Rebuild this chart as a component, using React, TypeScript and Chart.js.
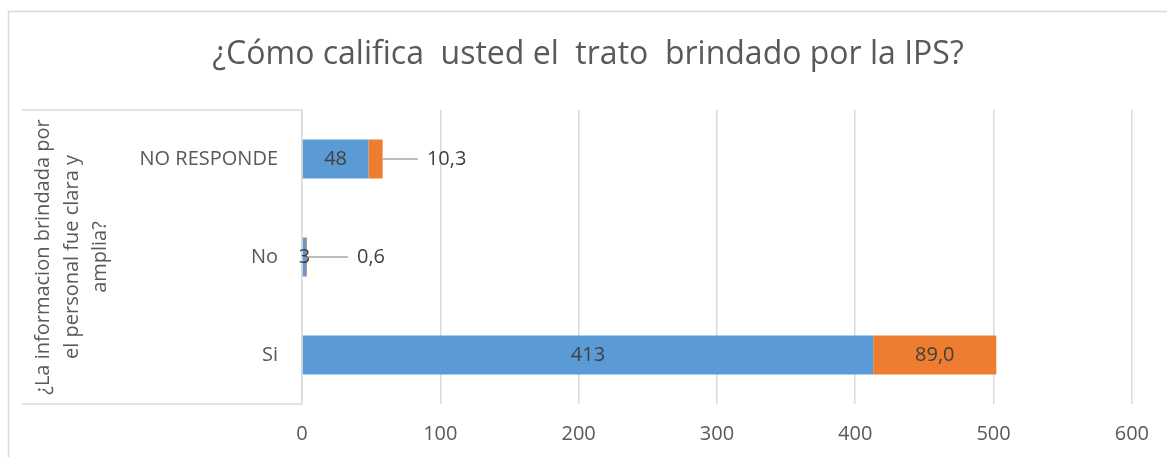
import React, { useEffect, useRef } from "react";
import { Chart, registerables } from "chart.js";

Chart.register(...registerables);

const categories = ["NO RESPONDE", "No", "Si"];
const countValues = [48, 3, 413];
const percentValues = [10.3, 0.6, 89.0];
const xTicks = [0, 100, 200, 300, 400, 500, 600];
const titleText = "¿Cómo califica  usted el  trato  brindado por la IPS?";
const yTitleLines = ["¿La informacion brindada por", "el personal fue clara y", "amplia?"];

const FONT = "'Open Sans', 'Noto Sans', sans-serif";
const BLUE = "#5B9BD5";
const ORANGE = "#ED7D31";
const GRID = "#D9D9D9";
const TEXT = "#595959";
const LABEL = "#404040";

const fmt = (v: number, decimals: number) => v.toFixed(decimals).replace(".", ",");

const decorPlugin = {
  id: "decor",
  beforeDraw(chart: any) {
    const { ctx, chartArea } = chart;
    ctx.save();
    ctx.fillStyle = "#ffffff";
    ctx.fillRect(0, 0, chart.width, chart.height);
    // outer border
    ctx.strokeStyle = GRID;
    ctx.lineWidth = 1.5;
    ctx.strokeRect(8.5, 11.5, chart.width + 10, chart.height + 10);
    // category box lines
    ctx.beginPath();
    ctx.moveTo(22, chartArea.top);
    ctx.lineTo(chartArea.left, chartArea.top);
    ctx.moveTo(22, chartArea.bottom);
    ctx.lineTo(chartArea.left, chartArea.bottom);
    ctx.stroke();
    // title
    ctx.fillStyle = TEXT;
    ctx.font = `32px ${FONT}`;
    ctx.textAlign = "center";
    ctx.textBaseline = "alphabetic";
    ctx.fillText(titleText, 588, 64);
    // y title
    ctx.font = `20px ${FONT}`;
    ctx.translate(72, (chartArea.top + chartArea.bottom) / 2);
    ctx.rotate(-Math.PI / 2);
    ctx.textBaseline = "middle";
    yTitleLines.forEach((line, i) => {
      ctx.fillText(line, 0, (i - 1) * 28.5);
    });
    ctx.restore();
  },
  afterDatasetsDraw(chart: any) {
    const { ctx } = chart;
    ctx.save();
    ctx.font = `20px ${FONT}`;
    ctx.fillStyle = LABEL;
    ctx.textBaseline = "middle";
    chart.data.datasets.forEach((ds: any, di: number) => {
      const meta = chart.getDatasetMeta(di);
      meta.data.forEach((el: any, i: number) => {
        const v = ds.data[i];
        const text = di === 0 ? fmt(v, 0) : fmt(v, 1);
        const start = Math.min(el.base, el.x);
        const end = Math.max(el.base, el.x);
        const w = ctx.measureText(text).width;
        if (di === 1 && end - start < w + 6) {
          const cx = end + 64;
          const left = cx - w / 2;
          ctx.strokeStyle = "#A6A6A6";
          ctx.lineWidth = 1.5;
          ctx.beginPath();
          ctx.moveTo(end, el.y);
          ctx.lineTo(left - 9, el.y);
          ctx.stroke();
          ctx.textAlign = "center";
          ctx.fillText(text, cx, el.y);
        } else {
          ctx.textAlign = "center";
          ctx.fillText(text, (start + end) / 2, el.y);
        }
      });
    });
    ctx.restore();
  },
};

export default function App() {
  const ref = useRef<HTMLCanvasElement | null>(null);
  useEffect(() => {
    if (!ref.current) return;
    const chart = new Chart(ref.current, {
      type: "bar",
      data: {
        labels: categories,
        datasets: [
          { label: "Cantidad", data: countValues, backgroundColor: BLUE, barPercentage: 0.4, categoryPercentage: 1 },
          { label: "Porcentaje", data: percentValues, backgroundColor: ORANGE, barPercentage: 0.4, categoryPercentage: 1 },
        ],
      },
      plugins: [decorPlugin],
      options: {
        indexAxis: "y",
        responsive: false,
        animation: false,
        layout: { padding: { top: 110, right: 34, left: 0, bottom: 0 } },
        plugins: { legend: { display: false }, tooltip: { enabled: false }, title: { display: false } },
        scales: {
          x: {
            stacked: true,
            min: xTicks[0],
            max: xTicks[xTicks.length - 1],
            afterBuildTicks: (scale: any) => {
              scale.ticks = xTicks.map((v) => ({ value: v }));
            },
            afterFit: (scale: any) => {
              scale.height = 53;
            },
            ticks: { color: TEXT, font: { family: FONT, size: 20 }, padding: 18 },
            grid: { color: GRID, lineWidth: 1.5, drawTicks: false },
            border: { display: false },
          },
          y: {
            stacked: true,
            afterFit: (scale: any) => {
              scale.width = 302;
            },
            ticks: { color: TEXT, font: { family: FONT, size: 20 }, padding: 24 },
            grid: { display: false, drawTicks: false },
            border: { display: true, color: GRID, width: 1.5 },
          },
        },
      },
    });
    return () => chart.destroy();
  }, []);
  return (
    <div style={{ position: "fixed", left: 0, top: 0, width: 1167, height: 457, background: "#fff" }}>
      <canvas ref={ref} width={1167} height={457} style={{ width: 1167, height: 457 }} />
    </div>
  );
}
